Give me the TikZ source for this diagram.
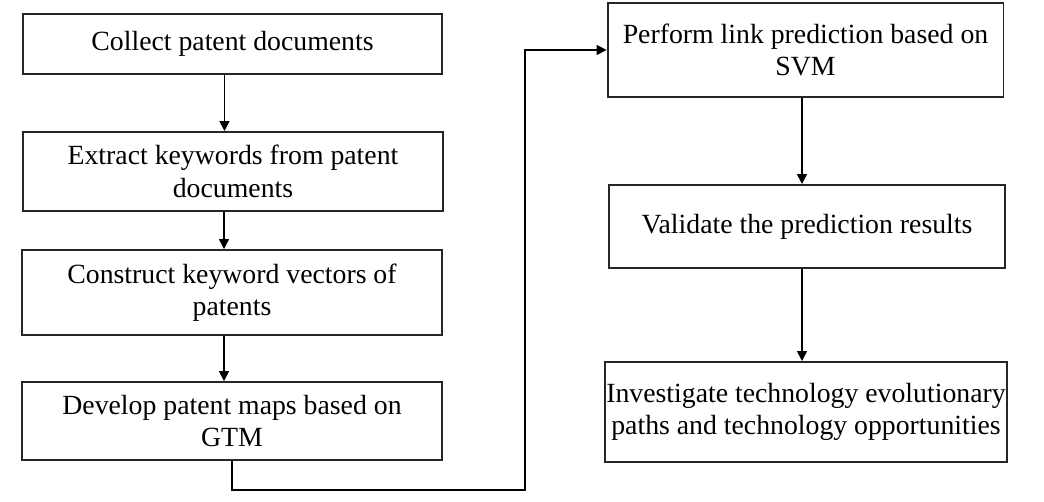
\documentclass[tikz,border=0pt]{standalone}
\usepackage{fontspec}
\setmainfont{Liberation Serif}
\usetikzlibrary{arrows.meta}

\begin{document}
\begin{tikzpicture}[x=0.02cm,y=-0.02cm,
  stepbox/.style={draw=black!85,line width=1.1pt,align=center,inner sep=1pt,
    font=\fontsize{15.8}{18.4}\selectfont},
  lbox/.style={stepbox,minimum width=8.4cm},
  rbox/.style={stepbox,minimum width=7.92cm},
  arr/.style={line width=0.9pt,-{Triangle[length=0.2cm,width=0.2cm]}}]
  \useasboundingbox (0,0) rectangle (1044,502);
  % left column
  \node[lbox,minimum height=1.2cm]  (collect)   at (232.5,44)  {Collect patent documents};
  \node[lbox,minimum height=1.58cm] (extract)   at (233,171.5) {Extract keywords from patent\\documents};
  \node[lbox,minimum height=1.7cm]  (construct) at (232,292.5) {Construct keyword vectors of\\patents};
  \node[lbox,minimum height=1.56cm] (develop)   at (232,421)   {Develop patent maps based on\\GTM};
  % right column
  \node[rbox,minimum height=1.88cm] (perform)   at (805.5,50)  {Perform link prediction based on\\SVM};
  \node[rbox,minimum height=1.66cm] (validate)  at (807,226.5) {Validate the prediction results};
  \node[rbox,minimum height=2cm]    (investig)  at (806,412)   {Investigate technology evolutionary\\paths and technology opportunities};
  \coordinate (turn) at (525,490);
  % arrows
  \draw[arr] ([xshift=-0.16cm]collect.south) -- ([xshift=-0.16cm]collect.south |- extract.north);
  \draw[arr] ([xshift=-0.18cm]extract.south) -- ([xshift=-0.18cm]extract.south |- construct.north);
  \draw[arr] ([xshift=-0.16cm]construct.south) -- ([xshift=-0.16cm]construct.south |- develop.north);
  \draw[arr] (develop.south) |- (turn) |- (perform.west);
  \draw[arr] ([xshift=-0.07cm]perform.south) -- ([xshift=-0.07cm]perform.south |- validate.north);
  \draw[arr] ([xshift=-0.1cm]validate.south) -- ([xshift=-0.1cm]validate.south |- investig.north);
\end{tikzpicture}
\end{document}
